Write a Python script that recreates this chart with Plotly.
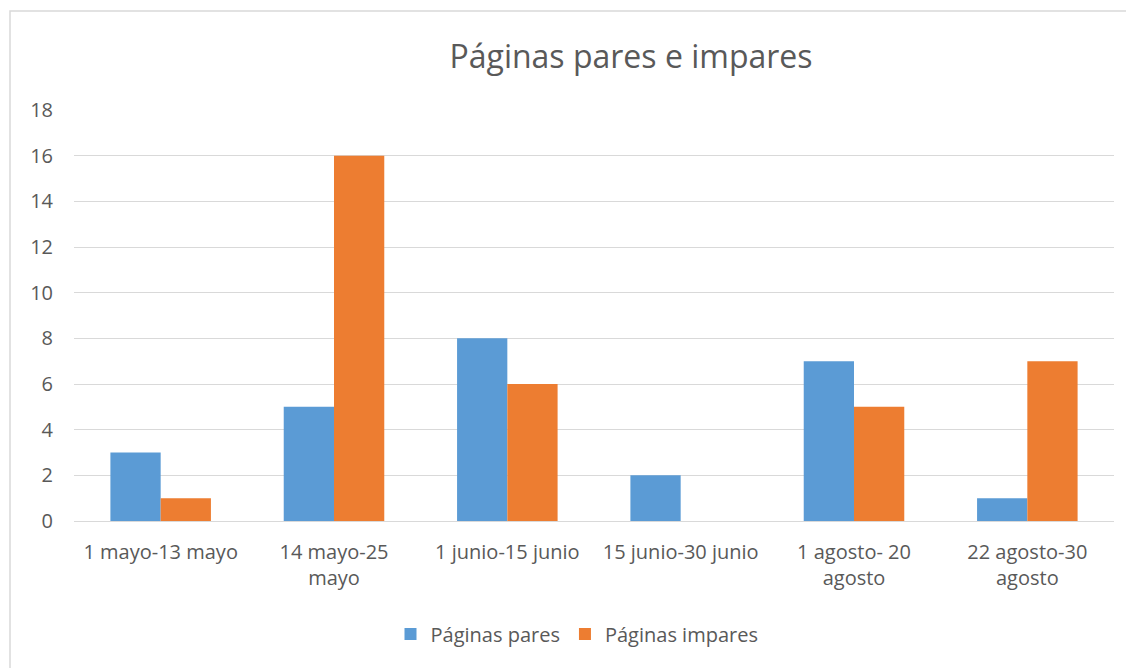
import plotly.graph_objects as go

categories = ["1 mayo-13 mayo", "14 mayo-25<br>mayo", "1 junio-15 junio", "15 junio-30 junio",
              "1 agosto- 20<br>agosto", "22 agosto-30<br>agosto"]
pares = [3, 5, 8, 2, 7, 1]
impares = [1, 16, 6, 0, 5, 7]
y_ticks = [0, 2, 4, 6, 8, 10, 12, 14, 16, 18]

FONT = "Open Sans, Noto Sans, Liberation Sans, sans-serif"
GRAY = "#595959"

fig = go.Figure()
fig.add_trace(go.Bar(x=categories, y=pares, name="Páginas pares", marker_color="#5B9BD5",
                     marker_line_width=0))
fig.add_trace(go.Bar(x=categories, y=impares, name="Páginas impares", marker_color="#ED7D31",
                     marker_line_width=0))

OFF = 8  # page body margin
W, H = 1134 - OFF, 668 - OFF
L, R, T, B = 74 - OFF, 20, 110 - OFF, 147
pw, ph = W - L - R, H - T - B

def px(x):
    return (x - OFF - L) / pw

def py(y):
    return (H - B - (y - OFF)) / ph

fig.update_layout(
    width=W, height=H,
    margin=dict(l=L, r=R, t=T, b=B),
    paper_bgcolor="white", plot_bgcolor="white",
    barmode="group", bargap=0.42, bargroupgap=0,
    font=dict(family=FONT, color=GRAY, size=20),
    title=dict(text="Páginas pares e impares", x=px(631), xref="paper", xanchor="center",
               y=1 - (57 - OFF) / H, yanchor="middle", font=dict(size=32, color=GRAY, family=FONT)),
    legend=dict(orientation="h", x=px(577), xanchor="center", y=py(634), yanchor="middle",
                font=dict(size=20, color=GRAY), traceorder="normal"),
    yaxis=dict(range=[0, 18], tickvals=y_ticks, showgrid=True, gridcolor="#D9D9D9", gridwidth=1,
               zeroline=True, zerolinecolor="#D9D9D9", zerolinewidth=1, showline=False,
               ticklabelstandoff=20, tickfont=dict(size=20, color=GRAY)),
    xaxis=dict(showline=False, ticks="", tickfont=dict(size=20, color=GRAY),
               ticklabelstandoff=17),
    shapes=[dict(type="rect", xref="paper", yref="paper", x0=px(10), x1=px(1160),
                 y0=py(700), y1=py(11), line=dict(color="#D9D9D9", width=1.5),
                 fillcolor="rgba(0,0,0,0)", layer="below")],
)

fig.write_html("out.html")
